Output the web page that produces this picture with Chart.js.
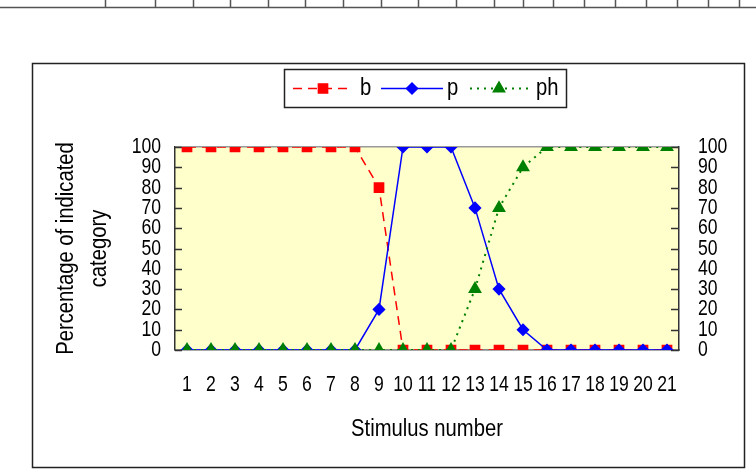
<!DOCTYPE html>
<html>
<head>
<meta charset="utf-8">
<script src="https://cdn.jsdelivr.net/npm/chart.js@4.4.1/dist/chart.umd.min.js"></script>
<style>
  html, body { margin: 0; padding: 0; background: #fff; }
  canvas { display: block; }
</style>
</head>
<body>
<canvas id="myChart" width="756" height="474"></canvas>
<script>
const stimuli = ['1','2','3','4','5','6','7','8','9','10','11','12','13','14','15','16','17','18','19','20','21'];
const bValues  = [100,100,100,100,100,100,100,100,80,0,0,0,0,0,0,0,0,0,0,0,0];
const pValues  = [0,0,0,0,0,0,0,0,20,100,100,100,70,30,10,0,0,0,0,0,0];
const phValues = [0,0,0,0,0,0,0,0,0,0,0,0,30,70,90,100,100,100,100,100,100];
const yTicks = [0,10,20,30,40,50,60,70,80,90,100];

const FONT = '"Liberation Sans", Arial, sans-serif';

const ctx = document.getElementById('myChart').getContext('2d');

// the original uses a condensed face; squeeze text horizontally around its anchor
const rawFillText = ctx.fillText;
ctx.fillText = function (t, x, y, maxW) {
    const k = this.font.indexOf('22px') >= 0 ? 0.8 : 0.88;
    this.save();
    this.translate(x, y);
    this.scale(k, 1);
    if (maxW === undefined) rawFillText.call(this, t, 0, 0);
    else rawFillText.call(this, t, 0, 0, maxW / k);
    this.restore();
};

// leftovers of the table above the figure, plus the frame and plot fill
const framePlugin = {
    id: 'frame',
    beforeDraw(chart) {
        const c = chart.ctx, a = chart.chartArea;
        c.save();
        c.fillStyle = '#fff';
        c.fillRect(0, 0, chart.width, chart.height);
        c.strokeStyle = '#555';
        c.lineWidth = 1.5;
        c.beginPath();
        c.moveTo(0, 7.5); c.lineTo(756, 7.5);
        [105,155,193,230,268,305,343,381,418,456,494,523,553,584,615,646,677,708,739].forEach(x => {
            c.moveTo(x + 0.5, 0); c.lineTo(x + 0.5, 7.5);
        });
        c.stroke();
        c.strokeStyle = '#222';
        c.lineWidth = 1.5;
        c.strokeRect(32.5, 63.5, 712, 404);
        c.fillStyle = '#FFFFCC';
        c.fillRect(a.left, a.top, a.right - a.left, a.bottom - a.top);
        c.restore();
    },
    beforeDatasetsDraw(chart) {
        const c = chart.ctx, a = chart.chartArea, y = chart.scales.y;
        c.save();
        c.strokeStyle = '#333';
        c.lineWidth = 1.5;
        c.beginPath();
        yTicks.forEach(v => {
            const py = Math.round(y.getPixelForValue(v)) + 0.5;
            c.moveTo(a.left, py); c.lineTo(a.left + 7, py);
            c.moveTo(a.right, py); c.lineTo(a.right - 8, py);
        });
        c.stroke();
        c.restore();
    },
    afterDraw(chart) {
        // legend box with line + marker samples
        const c = chart.ctx;
        c.save();
        c.fillStyle = '#fff';
        c.fillRect(284, 69, 283, 39);
        c.strokeStyle = '#222';
        c.lineWidth = 1.5;
        c.strokeRect(284.5, 69.5, 282, 38);
        const items = [
            { ds: 0, x0: 293, x1: 353, tx: 360 },
            { ds: 1, x0: 381, x1: 443, tx: 447 },
            { ds: 2, x0: 470, x1: 528, tx: 536 }
        ];
        const cy = 88.5;
        items.forEach(it => {
            const d = chart.data.datasets[it.ds];
            c.strokeStyle = d.borderColor;
            c.lineWidth = d.borderWidth;
            c.setLineDash(d.borderDash || []);
            c.beginPath();
            c.moveTo(it.x0, cy); c.lineTo(it.x1, cy);
            c.stroke();
            c.setLineDash([]);
            c.fillStyle = d.pointBackgroundColor;
            c.strokeStyle = d.pointBorderColor;
            Chart.helpers.drawPoint(c, { pointStyle: d.pointStyle, radius: d.pointRadius, borderWidth: 1 }, (it.x0 + it.x1) / 2, cy);
            c.fillStyle = '#000';
            c.font = '23px ' + FONT;
            c.textBaseline = 'middle';
            c.textAlign = 'left';
            c.fillText(d.label, it.tx, cy);
        });
        c.restore();
    }
};

const tickFont = { family: FONT, size: 22 };
const titleFont = { family: FONT, size: 23 };

const myChart = new Chart(ctx, {
    type: 'line',
    data: {
        labels: stimuli,
        datasets: [{
            label: 'b',
            data: bValues,
            borderColor: '#FF0000',
            borderWidth: 1.5,
            borderDash: [9, 6],
            pointStyle: 'rect',
            pointRadius: 6.5,
            pointBackgroundColor: '#FF0000',
            pointBorderColor: '#FF0000',
            order: 2,
            yAxisID: 'y'
        }, {
            label: 'p',
            data: pValues,
            borderColor: '#0000FF',
            borderWidth: 1.5,
            pointStyle: 'rectRot',
            pointRadius: 5.5,
            pointBackgroundColor: '#0000FF',
            pointBorderColor: '#0000FF',
            order: 1,
            yAxisID: 'y'
        }, {
            label: 'ph',
            data: phValues,
            borderColor: '#008000',
            borderWidth: 2,
            borderDash: [2, 5],
            pointStyle: 'triangle',
            pointRadius: 6,
            pointBackgroundColor: '#008000',
            pointBorderColor: '#008000',
            order: 0,
            yAxisID: 'y'
        }]
    },
    options: {
        responsive: false,
        animation: false,
        layout: { padding: { top: 147, left: 0, right: 0, bottom: 0 } },
        plugins: { legend: { display: false }, tooltip: { enabled: false } },
        elements: { line: { tension: 0 }, point: { borderWidth: 1 } },
        scales: {
            x: {
                type: 'category',
                offset: true,
                grid: { display: false, drawTicks: false },
                border: { color: '#888', width: 1.5 },
                ticks: { font: tickFont, color: '#000', padding: 22, maxRotation: 0, autoSkip: false },
                title: { display: true, text: 'Stimulus number', color: '#000', font: titleFont, padding: { top: 0, bottom: 31 } },
                afterFit(s) { s.height = 124; }
            },
            y: {
                position: 'left',
                min: 0, max: 100,
                afterBuildTicks(s) { s.ticks = yTicks.map(v => ({ value: v })); },
                grid: {
                    drawTicks: false,
                    color: c => (c.tick && (c.tick.value === 0 || c.tick.value === 100)) ? '#999' : 'rgba(0,0,0,0)',
                    lineWidth: 1.5
                },
                border: { color: '#333', width: 1.5 },
                ticks: { font: tickFont, color: '#000', padding: 14, autoSkip: false },
                title: {
                    display: true,
                    text: ['Percentage of indicated', 'category'],
                    color: '#000',
                    font: { family: FONT, size: 23, lineHeight: 1.43 },
                    padding: { top: 50, bottom: 0 }
                },
                afterFit(s) { s.width = 175; }
            },
            y2: {
                position: 'right',
                min: 0, max: 100,
                afterBuildTicks(s) { s.ticks = yTicks.map(v => ({ value: v })); },
                grid: { display: false, drawTicks: false },
                border: { color: '#333', width: 1.5 },
                ticks: { font: tickFont, color: '#000', padding: 19, autoSkip: false },
                afterFit(s) { s.width = 77; }
            }
        }
    },
    plugins: [framePlugin]
});
</script>
</body>
</html>
